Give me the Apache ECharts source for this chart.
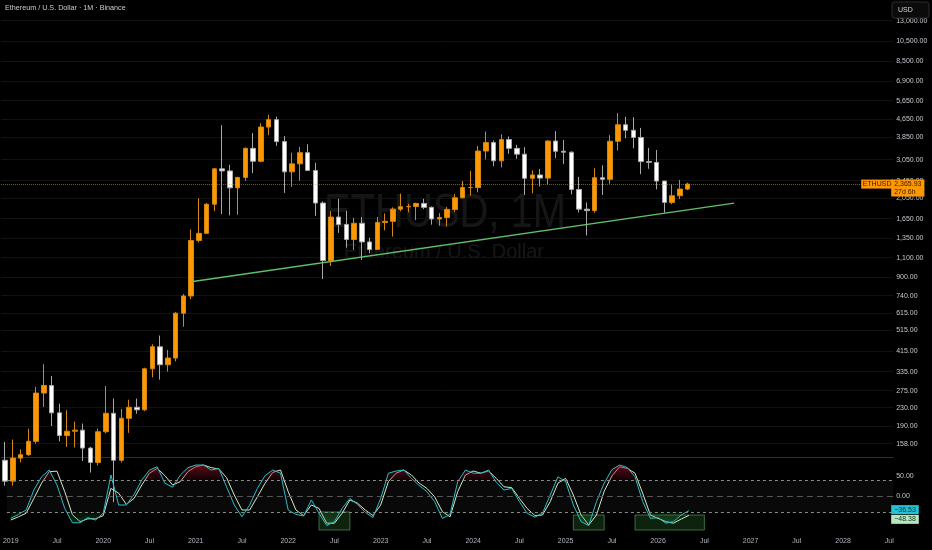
<!DOCTYPE html>
<html>
<head>
<meta charset="utf-8">
<title>ETHUSD 1M</title>
<script src="https://cdn.jsdelivr.net/npm/echarts@6/dist/echarts.min.js"></script>
<style>
html,body{margin:0;padding:0;background:#000;}
#chart{width:932px;height:550px;}
</style>
</head>
<body>
<div id="chart"></div>
<script>
// monthly candles, Jan 2019 .. May 2026 (USD)
var ethOpen = [133,107,136,141,162,268,290,218,172,180,182,151,
  130,179,217,133,206,231,225,345,434,360,386,616,
  737,1314,1416,1918,2773,2714,2275,2536,3433,3001,4288,4631,
  3683,2688,2922,3282,2727,1942,1067,1678,1553,1328,1572,1295,
  1196,1585,1605,1822,1869,1874,1934,1856,1645,1671,1815,2051,
  2282,2283,3340,3646,3015,3763,3433,3232,2513,2602,2518,3705,
  3332,3300,2237,1822,1794,2528,2486,3698,4391,4145,3848,2991,
  2967,2441,1955,2095,2246];
var ethHigh = [161,165,149,185,286,362,320,240,224,199,195,153,
  185,288,253,227,250,253,349,446,488,420,623,752,
  1475,2041,1943,2799,4372,2891,2551,3467,4027,4460,4868,4778,
  3900,3282,3483,3580,2955,1974,1785,2030,1790,1664,1678,1352,
  1680,1743,1857,2141,1928,1950,2029,1875,1749,1865,2136,2445,
  2717,3522,4093,3730,3977,3887,3563,3480,2728,2769,3740,4108,
  3745,3325,2550,1955,2788,2880,3941,4956,4770,4755,4250,3447,
  3374,2450,2357,2467,2400];
var ethLow = [102,102,130,139,158,232,190,162,153,152,132,117,
  126,176,86,130,177,216,222,316,308,335,373,535,
  714,1289,1412,1785,1733,1707,1719,2450,2651,2970,3936,3524,
  2159,2300,2450,2710,1700,880,1007,1422,1220,1190,1073,1150,
  1190,1461,1368,1785,1761,1626,1823,1550,1531,1522,1770,2040,
  2100,2170,3056,2852,2817,3240,3080,2112,2150,2307,2357,3099,
  2920,2125,1760,1385,1753,2112,2373,3355,3815,3435,2623,2775,
  2240,1755,1921,2023,2220];
var ethClose = [107,136,141,162,268,290,218,172,180,182,151,130,
  179,217,133,206,231,225,345,434,360,386,616,737,
  1314,1416,1918,2773,2714,2275,2536,3433,3001,4288,4631,3683,
  2688,2922,3282,2727,1942,1067,1678,1553,1328,1572,1295,1196,
  1585,1605,1822,1869,1874,1934,1856,1645,1671,1815,2051,2282,
  2283,3340,3646,3015,3763,3433,3232,2513,2602,2518,3705,3332,
  3300,2237,1822,1794,2528,2486,3698,4391,4145,3848,2991,2967,
  2441,1955,2095,2246,2365.93];

// oscillator pane (fast / slow line)
var oscFast = [-56,-46,-35,15,48,65,27.5,-31,-67,-67,-54,-60,
  -43,52.5,-22.5,-22.5,4,40,65,73,32,22,52.5,71,
  77.5,77.5,65,69,23,-22.5,-52,-22.5,19,51,65,57,
  -35,-46,-50,-10,-43,-74,-64,-31,-6,-21,-41,-54,
  -6,57,62.5,65,44,26,11,-14,-56,-46,36,65,
  57,57,65,34,15,19,-14,-43,-53,-43,2.5,48,
  36,-22.5,-64,-74,-14,32,66,77.5,71,48,-14,-56,
  -54,-68,-64,-47.5,-36.53];
var oscSlow = [-60,-52,-43,-6,32,61,62,11,-47,-64,-57,-57,
  -49,19,7,-21,-6,27.5,57,69,51,27.5,36,61,
  73,77.5,71,67.5,46,2.5,-35,-35,-2,32,59,65,
  11,-35,-49,-22.5,-31,-68,-68,-43,-10,-18,-35,-49,
  -22.5,36,57,65,52.5,32,19,-2,-39,-52,11,52.5,
  62.5,57,62.5,44,23,21,-6,-31,-49,-47.5,-14,32,
  44,2.5,-47.5,-72.5,-47.5,12,50,73,69,57,6.7,-47.5,
  -56,-64,-68,-57.5,-48.38];
var oscLevels = [40, 0, -40];

// drawn boxes on the oscillator pane
var boxFrom = ['2022-05', '2025-02', '2025-10'];
var boxTo = ['2022-09', '2025-06', '2026-07'];
var boxTop = [-40, -47.5, -47.5];
var boxBottom = [-85, -85, -85];

// support trendline end points
var trendFrom = ['2021-01', 855];
var trendTo = ['2026-11', 1940];

var priceTicks = [158,190,230,275,335,415,515,615,740,900,1100,1350,1650,2050,2450,3050,3850,4650,5650,6900,8500,10500,13000];
var oscTicks = [0, 50];
var lastPrice = ethClose[ethClose.length - 1];

var months = [];
for (var y = 2019; y <= 2028; y++) {
  for (var m = 1; m <= 12; m++) {
    if (y === 2028 && m > 7) break;
    months.push(y + '-' + (m < 10 ? '0' + m : m));
  }
}

var barStep = 7.757;
var gridLeft = 5 - barStep / 2;
var gridWidth = months.length * barStep;
var FONT = 'Liberation Sans, Arial, sans-serif';
var NONE = 'rgba(0,0,0,0)';
var WATER = 'rgba(255,255,255,0.085)';

function fmtPrice(v) {
  return Number(v).toLocaleString('en-US', {minimumFractionDigits: 2, maximumFractionDigits: 2});
}
function fmtOsc(v) {
  return (v < 0 ? '\u2212' : '') + Math.abs(v).toFixed(2);
}

var candles = ethOpen.map(function (o, i) {
  return [o, ethClose[i], ethLow[i], ethHigh[i]];
});

var boxes = boxFrom.map(function (b, i) {
  return [{coord: [b, boxTop[i]]}, {coord: [boxTo[i], boxBottom[i]]}];
});

var chart = echarts.init(document.getElementById('chart'));

var option = {
  backgroundColor: '#000000',
  animation: false,
  textStyle: {fontFamily: FONT},
  title: {
    text: 'Ethereum / U.S. Dollar \u00b7 1M \u00b7 Binance',
    left: 5, top: 5, padding: 0,
    textStyle: {color: '#c9ccd3', fontSize: 7.2, fontWeight: 'normal'}
  },
  graphic: [
    {type: 'text', z: 0, silent: true, x: 445, y: 214, scaleY: 1.2,
      style: {text: 'ETHUSD, 1M', x: 0, y: 0, textAlign: 'center', textVerticalAlign: 'middle',
        fontSize: 40, fill: WATER, fontFamily: FONT}},
    {type: 'text', z: 0, silent: true, x: 444, y: 252,
      style: {text: 'Ethereum / U.S. Dollar', x: 0, y: 0, textAlign: 'center', textVerticalAlign: 'middle',
        fontSize: 20, fill: WATER, fontFamily: FONT}},
    {type: 'rect', z: 10, shape: {x: 892, y: 2, width: 37, height: 16, r: 2},
      style: {fill: '#0b0b0b', stroke: '#2c2c2c', lineWidth: 1}},
    {type: 'text', z: 11,
      style: {text: 'USD', x: 898, y: 10, textVerticalAlign: 'middle', fontSize: 7, fill: '#d1d4dc', fontFamily: FONT}}
  ],
  grid: [
    {left: gridLeft, top: 0, width: gridWidth, height: 457},
    {left: gridLeft, top: 458, width: gridWidth, height: 72}
  ],
  xAxis: [
    {type: 'category', gridIndex: 0, data: months,
      axisLine: {lineStyle: {color: '#2f2f2f'}}, axisTick: {show: false},
      axisLabel: {show: false}, splitLine: {show: false}},
    {type: 'category', gridIndex: 1, data: months,
      axisLine: {show: false}, axisTick: {show: false}, splitLine: {show: false},
      axisLabel: {
        color: '#b2b5be', fontSize: 7, margin: 8,
        interval: function (idx, val) { var mm = val.slice(5); return mm === '01' || mm === '07'; },
        formatter: function (val) { return val.slice(5) === '01' ? val.slice(0, 4) : 'Jul'; }
      }}
  ],
  yAxis: [
    {type: 'log', gridIndex: 0, position: 'right', min: 137.6, max: 16117,
      axisLine: {show: false}, axisTick: {show: false, customValues: priceTicks},
      axisLabel: {customValues: priceTicks, formatter: fmtPrice, color: '#c5c8ce', fontSize: 7, margin: 3},
      splitLine: {show: true, lineStyle: {color: '#121212'}}},
    {type: 'value', gridIndex: 1, position: 'right', min: -85, max: 95,
      axisLine: {show: false}, axisTick: {show: false, customValues: oscTicks},
      axisLabel: {customValues: oscTicks, formatter: fmtOsc, color: '#c5c8ce', fontSize: 7, margin: 3},
      splitLine: {show: false}}
  ],
  series: [
    {
      name: 'ETHUSD', type: 'candlestick', xAxisIndex: 0, yAxisIndex: 0,
      data: candles, barWidth: 5,
      itemStyle: {color: '#ff9800', color0: '#ffffff', borderColor: '#d48612', borderColor0: '#a8a8a8', borderWidth: 1},
      markLine: {
        silent: true, symbol: ['none', 'none'], animation: false,
        data: [
          [{coord: trendFrom}, {coord: trendTo, lineStyle: {color: '#5fbf6a', width: 1.5, type: 'solid'}, label: {show: false}}],
          {yAxis: lastPrice, lineStyle: {color: 'rgba(255,152,0,0.6)', width: 1, type: 'dotted'},
            label: {show: true, position: 'end', distance: 0, offset: [-2, 4],
              formatter: function () { return fmtPrice(lastPrice) + '\n27d 6h'; },
              backgroundColor: '#ff9800', color: '#2e1b00', fontSize: 7, lineHeight: 7.5, padding: [1, 3]}},
          {yAxis: lastPrice, lineStyle: {color: NONE, width: 0},
            label: {show: true, position: 'end', distance: 0, offset: [-32, 0],
              formatter: 'ETHUSD', backgroundColor: '#ff9800', color: '#2e1b00', fontSize: 7, padding: [1, 1.5]}}
        ]
      }
    },
    {
      name: 'fast', type: 'line', xAxisIndex: 1, yAxisIndex: 1, data: oscFast,
      symbol: 'none', lineStyle: {color: '#2bbccc', width: 1}, z: 4,
      areaStyle: {
        origin: 40,
        color: new echarts.graphic.LinearGradient(0, 460, 0, 530, [
          {offset: 0, color: 'rgba(200,20,55,0.95)'},
          {offset: 0.12, color: 'rgba(150,15,40,0.75)'},
          {offset: 0.28, color: 'rgba(110,10,30,0.25)'},
          {offset: 0.286, color: 'rgba(0,0,0,0)'},
          {offset: 0.74, color: 'rgba(0,0,0,0)'},
          {offset: 0.745, color: 'rgba(30,120,60,0.2)'},
          {offset: 1, color: 'rgba(50,170,80,0.55)'}
        ], true)
      },
      markArea: {
        silent: true,
        itemStyle: {color: 'rgba(46,125,50,0.28)', borderColor: 'rgba(90,170,95,0.6)', borderWidth: 1},
        data: boxes
      },
      markLine: {
        silent: true, symbol: ['none', 'none'],
        data: [{yAxis: oscFast[oscFast.length - 1], lineStyle: {color: NONE, width: 0},
          label: {show: true, position: 'end', distance: -2, offset: [0, -1],
            formatter: function (p) { return fmtOsc(p.value); },
            backgroundColor: '#22c3d6', color: '#0b2a30', fontSize: 7, padding: [1, 3]}}]
      }
    },
    {
      name: 'slow', type: 'line', xAxisIndex: 1, yAxisIndex: 1, data: oscSlow,
      symbol: 'none', lineStyle: {color: '#d3e8c4', width: 1}, z: 3,
      markArea: {
        silent: true,
        itemStyle: {color: 'rgba(255,255,255,0.035)'},
        data: [[{yAxis: oscLevels[0]}, {yAxis: oscLevels[2]}]]
      },
      markLine: {
        silent: true, symbol: ['none', 'none'],
        data: [
          {yAxis: oscLevels[0], lineStyle: {color: '#8a8a8a', type: [3, 3], width: 1}, label: {show: false}},
          {yAxis: oscLevels[1], lineStyle: {color: '#555555', type: [6, 4], width: 1}, label: {show: false}},
          {yAxis: oscLevels[2], lineStyle: {color: '#8a8a8a', type: [3, 3], width: 1}, label: {show: false}},
          {yAxis: oscSlow[oscSlow.length - 1], lineStyle: {color: NONE, width: 0},
            label: {show: true, position: 'end', distance: -2, offset: [0, 4],
              formatter: function (p) { return fmtOsc(p.value); },
              backgroundColor: '#b5e8c0', color: '#123018', fontSize: 7, padding: [1, 3]}}
        ]
      }
    }
  ]
};

chart.setOption(option);
</script>
</body>
</html>
